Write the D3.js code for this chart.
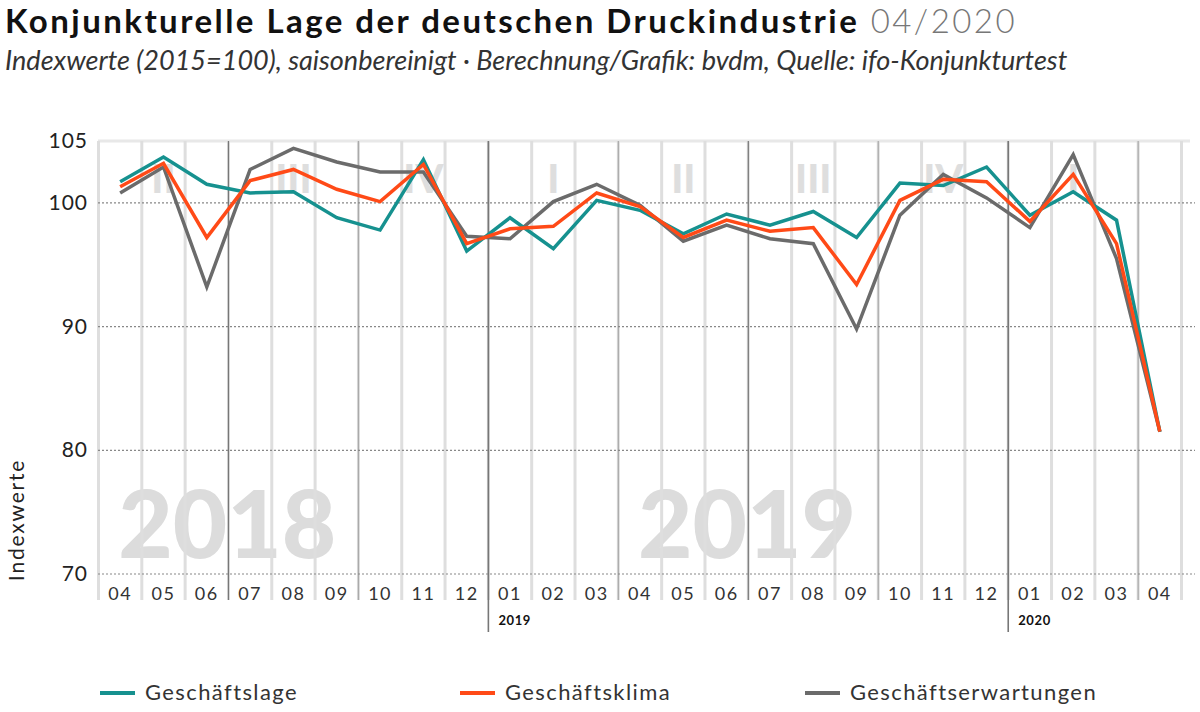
<!DOCTYPE html>
<html>
<head>
<meta charset="utf-8">
<script src="https://cdn.jsdelivr.net/npm/d3@7"></script>
<style>
  body { margin: 0; background: #fff; }
  svg { display: block; font-family: Lato, "Open Sans", sans-serif; }
</style>
</head>
<body>
<svg id="chart"></svg>
<script>
// months shown on the x axis (04/2018 .. 04/2020)
const months = ['04','05','06','07','08','09','10','11','12',
                '01','02','03','04','05','06','07','08','09','10','11','12',
                '01','02','03','04'];
const years = [2018,2018,2018,2018,2018,2018,2018,2018,2018,
               2019,2019,2019,2019,2019,2019,2019,2019,2019,2019,2019,2019,
               2020,2020,2020,2020];

const lage = [101.7,103.7,101.5,100.8,100.9,98.8,97.8,103.5,96.1,
              98.8,96.3,100.2,99.4,97.5,99.1,98.2,99.3,97.2,101.6,101.4,102.9,
              99.0,100.9,98.6,81.5];
const klima = [101.3,103.2,97.2,101.8,102.7,101.1,100.1,103.1,96.7,
               97.9,98.1,100.8,99.7,97.2,98.6,97.7,98.0,93.4,100.2,101.9,101.7,
               98.5,102.3,96.7,81.5];
const erwartung = [100.8,102.9,93.2,102.7,104.4,103.3,102.5,102.5,97.3,
                   97.1,100.1,101.5,99.8,96.9,98.2,97.1,96.7,89.8,99.0,102.3,100.4,
                   98.0,103.9,95.5,81.5];

const yTicks = [70, 80, 90, 100, 105];
const quarterLabels = [[1,'II'],[4,'III'],[7,'IV'],[10,'I'],[13,'II'],[16,'III'],[19,'IV'],[22,'I']];
const series = [
  { name: 'Geschäftserwartungen', values: erwartung, color: '#6b6b6b' },
  { name: 'Geschäftslage', values: lage, color: '#16918f' },
  { name: 'Geschäftsklima', values: klima, color: '#ff4a17' }
];
const legendOrder = ['Geschäftslage', 'Geschäftsklima', 'Geschäftserwartungen'];

const width = 1200, height = 712;
const svg = d3.select('#chart').attr('width', width).attr('height', height);

const x = d3.scaleBand().domain(d3.range(months.length)).range([98.5, 1181.5]).padding(0);
const cx = i => x(i) + x.bandwidth() / 2;
const y = d3.scaleLinear().domain([70, 105]).range([574, 141]);

// stretch a text to a given width with letter-spacing
function spreadTo(sel, target) {
  const node = sel.node();
  const w = node.getComputedTextLength();
  const n = node.textContent.length;
  sel.attr('letter-spacing', (target - w) / n);
}
function fitWidth(sel, target) {
  const w = sel.node().getComputedTextLength();
  sel.attr('font-size', +sel.attr('font-size') * target / w);
}

// title
const title = svg.append('text').attr('x', 5).attr('y', 33)
  .attr('font-size', 33).attr('font-weight', 700).attr('fill', '#111');
title.append('tspan').text('Konjunkturelle Lage der deutschen Druckindustrie');
title.append('tspan').attr('font-weight', 300).attr('fill', '#777').text(' 04/2020');
spreadTo(title, 1012);

const sub = svg.append('text').attr('x', 5).attr('y', 70)
  .attr('font-size', 19).attr('font-style', 'italic').attr('fill', '#333')
  .text('Indexwerte (2015=100), saisonbereinigt  ·  Berechnung/Grafik: bvdm, Quelle: ifo-Konjunkturtest');
fitWidth(sub, 1063);

// big year watermarks
svg.append('g').selectAll('text').data([[0, '2018'], [12, '2019']]).join('text')
  .attr('x', d => cx(d[0]) - 2).attr('y', 558)
  .attr('font-size', 94).attr('font-weight', 900).attr('fill', '#dcdcdc')
  .text(d => d[1]);

// quarter numerals
svg.append('g').selectAll('text').data(quarterLabels).join('text')
  .attr('x', d => cx(d[0])).attr('y', 193).attr('text-anchor', 'middle')
  .attr('font-size', 40).attr('font-weight', 900).attr('fill', '#dedede')
  .text(d => d[1]);

// top band at 105
svg.append('line').attr('x1', 98).attr('x2', 1190)
  .attr('y1', y(105)).attr('y2', y(105))
  .attr('stroke', '#e8e8e8').attr('stroke-width', 3);

// month boundaries
const bounds = d3.range(months.length + 1);
svg.append('g').selectAll('line').data(bounds).join('line')
  .attr('x1', b => x.range()[0] + b * x.bandwidth())
  .attr('x2', b => x.range()[0] + b * x.bandwidth())
  .attr('y1', y(105)).attr('y2', 600)
  .attr('stroke', '#dedede').attr('stroke-width', 3);

// quarter / year boundaries
const qb = bounds.filter(b => b > 0 && b < months.length && (+months[b] - 1) % 3 === 0);
svg.append('g').selectAll('line').data(qb).join('line')
  .attr('x1', b => x.range()[0] + b * x.bandwidth())
  .attr('x2', b => x.range()[0] + b * x.bandwidth())
  .attr('y1', y(105))
  .attr('y2', b => months[b] === '01' ? 632 : 600)
  .attr('stroke', b => months[b] === '01' || months[b] === '07' ? '#777' : '#aaa')
  .attr('stroke-width', b => months[b] === '01' ? 1.6 : 1.2);

// horizontal dotted grid
svg.append('g').selectAll('line').data(yTicks.filter(t => t < 105)).join('line')
  .attr('x1', 98).attr('x2', 1195)
  .attr('y1', d => y(d)).attr('y2', d => y(d))
  .attr('stroke', '#888').attr('stroke-width', 1.2).attr('stroke-dasharray', '2,2');

// y tick labels
svg.append('g').selectAll('text').data(yTicks).join('text')
  .attr('x', 88).attr('y', d => y(d) + 7).attr('text-anchor', 'end')
  .attr('font-size', 21).attr('letter-spacing', 1).attr('fill', '#222')
  .text(d => d);

svg.append('text')
  .attr('transform', 'translate(24,520) rotate(-90)')
  .attr('text-anchor', 'middle').attr('font-size', 21).attr('letter-spacing', 1.8)
  .attr('fill', '#222')
  .text('Indexwerte');

// month labels
svg.append('g').selectAll('text').data(months).join('text')
  .attr('x', (d, i) => cx(i)).attr('y', 600).attr('text-anchor', 'middle')
  .attr('font-size', 18).attr('fill', '#333').attr('letter-spacing', 1.5)
  .text(d => d);

// year labels under January
const janIdx = months.map((m, i) => i).filter(i => months[i] === '01');
svg.append('g').selectAll('text').data(janIdx).join('text')
  .attr('x', i => x(i) + 10).attr('y', 625)
  .attr('font-size', 13).attr('font-weight', 700).attr('letter-spacing', 0.6).attr('fill', '#111')
  .text(i => years[i]);

// lines
const line = d3.line().x((d, i) => cx(i)).y(d => y(d));
svg.append('g').selectAll('path').data(series).join('path')
  .attr('d', d => line(d.values))
  .attr('fill', 'none').attr('stroke', d => d.color)
  .attr('stroke-width', 3.5).attr('stroke-linejoin', 'miter');

// legend
const legendX = [100, 460, 805];
const lg = svg.append('g').selectAll('g').data(legendOrder).join('g')
  .attr('transform', (d, i) => `translate(${legendX[i]},693)`);
lg.append('line').attr('x1', 0).attr('x2', 35)
  .attr('stroke', d => series.find(s => s.name === d).color).attr('stroke-width', 4);
lg.append('text').attr('x', 45).attr('y', 7).attr('font-size', 22)
  .attr('letter-spacing', 1.4).attr('fill', '#333')
  .text(d => d);
</script>
</body>
</html>
